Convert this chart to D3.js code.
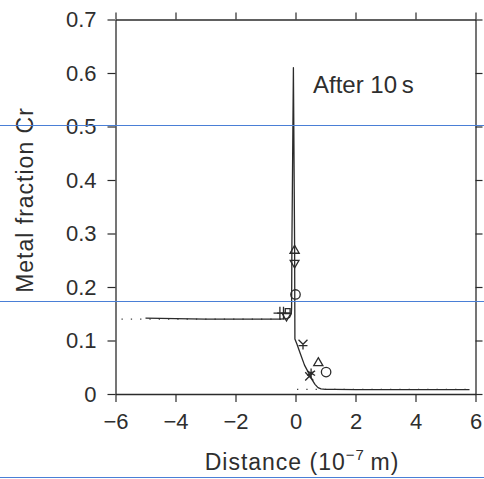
<!DOCTYPE html>
<html>
<head>
<meta charset="utf-8">
<script src="https://cdn.jsdelivr.net/npm/d3@7"></script>
<style>
  body { margin: 0; background: #fff; }
  text { font-family: "Liberation Sans", Arial, sans-serif; fill: #2e2e2e; }
</style>
</head>
<body>
<div id="chart"></div>
<script>
// simulated profile (solid line)
const profileX = [-5.0, -4.0, -3.0, -2.0, -1.0, -0.5, -0.3, -0.2, -0.14, -0.13, -0.12, -0.07, -0.03, -0.02,
  0.05, 0.15, 0.3, 0.45, 0.55, 0.65, 0.75, 0.85, 1.0, 1.3, 2.0, 3.0, 4.0, 5.0, 5.8];
const profileY = [0.142, 0.141, 0.140, 0.140, 0.140, 0.140, 0.141, 0.143, 0.150, 0.160, 0.280, 0.610, 0.280, 0.103,
  0.093, 0.077, 0.054, 0.038, 0.027, 0.018, 0.012, 0.0095, 0.0088, 0.0085, 0.0082, 0.008, 0.008, 0.008, 0.008];

// dotted (initial) profile, null = gap
const dottedX = [-5.8, -0.3, null, 0.05, 5.8];
const dottedY = [0.140, 0.140, null, 0.0085, 0.0085];

// measured points
const markX = [-0.52, -0.40, -0.30, -0.26, -0.03, -0.03, 0.0, 0.25, 0.46, 0.52, 0.76, 1.02];
const markY = [0.151, 0.151, 0.146, 0.155, 0.268, 0.245, 0.186, 0.093, 0.033, 0.039, 0.058, 0.041];
const markShape = ["plus", "plus", "tridown", "square", "triup", "tridown", "circle", "yen", "times", "asterisk", "triup", "circle"];

const xTicks = [-6, -4, -2, 0, 2, 4, 6];
const yTicks = [0, 0.1, 0.2, 0.3, 0.4, 0.5, 0.6, 0.7];

// thin horizontal lines across the scan
const scanLines = [0.503, 0.174, -0.155];

const W = 484, H = 479;
const svg = d3.select("#chart").append("svg")
  .attr("width", W)
  .attr("height", H);

const x = d3.scaleLinear().domain([-6, 6]).range([115.5, 475.5]);
const y = d3.scaleLinear().domain([0, 0.7]).range([394, 19.5]);

const ink = "#2b2b2b";

// axes (box with outward ticks)
function styleAxis(g) {
  g.selectAll("path.domain").attr("stroke", ink).attr("stroke-width", 1.3);
  g.selectAll(".tick line").attr("stroke", ink).attr("stroke-width", 1.2);
  g.selectAll("text").attr("font-family", "Liberation Sans, Arial, sans-serif")
    .attr("font-size", 22).attr("fill", "#333");
}

svg.append("g").attr("transform", "translate(0,394)")
  .call(d3.axisBottom(x).tickValues(xTicks).tickSize(8).tickSizeOuter(0).tickPadding(11))
  .call(styleAxis);

svg.append("g").attr("transform", "translate(0,19.5)")
  .call(d3.axisTop(x).tickValues(xTicks).tickSize(7).tickSizeOuter(0).tickFormat(""))
  .call(styleAxis);

svg.append("g").attr("transform", "translate(115.5,0)")
  .call(d3.axisLeft(y).tickValues(yTicks).tickSize(8).tickSizeOuter(0).tickPadding(11)
    .tickFormat(d => d === 0 ? "0" : d.toFixed(1)))
  .call(styleAxis);

svg.append("g").attr("transform", "translate(475.5,0)")
  .call(d3.axisRight(y).tickValues(yTicks).tickSize(7).tickSizeOuter(0).tickFormat(""))
  .call(styleAxis);

// dotted line
const dotLine = d3.line()
  .defined((d, i) => dottedX[i] !== null)
  .x((d, i) => x(dottedX[i]))
  .y((d, i) => y(dottedY[i]));

svg.append("path")
  .attr("d", dotLine(dottedX))
  .attr("fill", "none")
  .attr("stroke", "#444")
  .attr("stroke-width", 1.3)
  .attr("stroke-dasharray", "1.3,8");

// solid line
const solidLine = d3.line()
  .x((d, i) => x(profileX[i]))
  .y((d, i) => y(profileY[i]));

svg.append("path")
  .attr("d", solidLine(profileX))
  .attr("fill", "none")
  .attr("stroke", ink)
  .attr("stroke-width", 1.3)
  .attr("stroke-linejoin", "round");

// custom symbol: Y with a cross bar
const symbolYen = {
  draw(ctx, size) {
    const r = Math.sqrt(size) / 2;
    ctx.moveTo(-r, -r); ctx.lineTo(0, 0);
    ctx.lineTo(r, -r);
    ctx.moveTo(0, 0); ctx.lineTo(0, r * 1.2);
    ctx.moveTo(-r, r * 0.3); ctx.lineTo(r, r * 0.3);
  }
};

const shapes = {
  plus: d3.symbolPlus,
  times: d3.symbolTimes,
  asterisk: d3.symbolAsterisk,
  square: d3.symbolSquare2,
  triup: d3.symbolTriangle2,
  tridown: d3.symbolTriangle2,
  circle: d3.symbolCircle,
  yen: symbolYen
};
const sizes = { plus: 55, times: 45, asterisk: 60, square: 30, triup: 60, tridown: 55, circle: 70, yen: 80 };

svg.append("g").selectAll("path")
  .data(markX)
  .enter()
  .append("path")
  .attr("transform", (d, i) => "translate(" + x(markX[i]) + "," + y(markY[i]) + ")"
    + (markShape[i] === "tridown" ? " rotate(180)" : ""))
  .attr("d", (d, i) => d3.symbol().type(shapes[markShape[i]]).size(sizes[markShape[i]])())
  .attr("fill", "none")
  .attr("stroke", ink)
  .attr("stroke-width", 1.3);

// labels
svg.append("text")
  .attr("x", 313)
  .attr("y", 93)
  .attr("font-size", 24)
  .text("After 10\u2009s");

svg.append("text")
  .attr("transform", "translate(33,200) rotate(-90)")
  .attr("text-anchor", "middle")
  .attr("font-size", 23)
  .attr("letter-spacing", 1)
  .text("Metal fraction Cr");

const xl = svg.append("text")
  .attr("x", 302)
  .attr("y", 470)
  .attr("text-anchor", "middle")
  .attr("font-size", 23)
  .attr("letter-spacing", 1);
xl.append("tspan").text("Distance (10");
xl.append("tspan").attr("font-size", 15).attr("dy", -10).text("\u22127");
xl.append("tspan").attr("dy", 10).text("\u2009m)");

// scan lines
svg.append("g").selectAll("line")
  .data(scanLines)
  .enter()
  .append("line")
  .attr("x1", 0)
  .attr("x2", W)
  .attr("y1", d => Math.round(y(d)) + 0.5)
  .attr("y2", d => Math.round(y(d)) + 0.5)
  .attr("stroke", "#4a7fd6")
  .attr("stroke-width", 1);
</script>
</body>
</html>
